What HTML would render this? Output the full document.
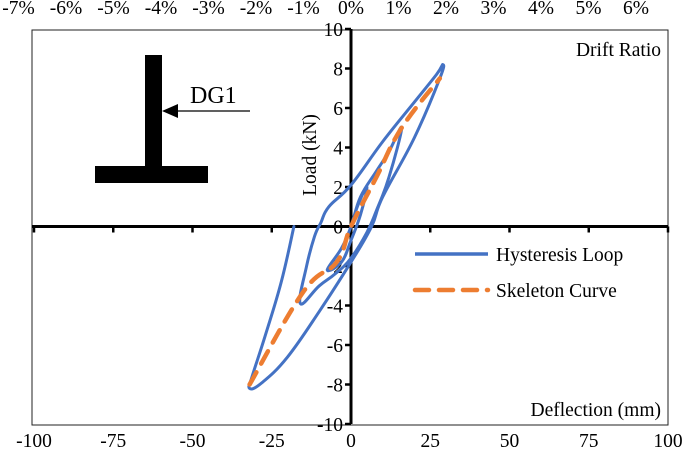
<!DOCTYPE html>
<html><head><meta charset="utf-8"><style>
html,body{margin:0;padding:0;background:#fff;}
svg{display:block;font-family:"Liberation Serif",serif;}
</style></head><body>
<svg id="chart" width="685" height="454" xmlns="http://www.w3.org/2000/svg">
<rect x="32" y="30" width="636" height="395" fill="none" stroke="#222" stroke-width="1"/>
<g id="axes"></g>
<g id="series"></g>
<g>
<rect x="145" y="55" width="17" height="112" fill="#000"/>
<rect x="95" y="166" width="113" height="17" fill="#000"/>
<line x1="176" y1="111" x2="250" y2="111" stroke="#000" stroke-width="1.2"/>
<polygon points="162,111 178,104 178,118" fill="#000"/>
<text x="190" y="103" font-size="24">DG1</text>
</g>
<text x="661" y="56" font-size="19.5" text-anchor="end">Drift Ratio</text>
<text x="661" y="416" font-size="19.5" text-anchor="end">Deflection (mm)</text>
<text transform="translate(316,155) rotate(-90)" font-size="19.5" text-anchor="middle">Load (kN)</text>
<g>
<line x1="415" y1="254" x2="488" y2="254" stroke="#4472C4" stroke-width="3.5"/>
<text x="496" y="261" font-size="19.5">Hysteresis Loop</text>
<line x1="415" y1="290" x2="488" y2="290" stroke="#ED7D31" stroke-width="4.5" stroke-dasharray="14,10" stroke-linecap="round"/>
<text x="496" y="297" font-size="19.5">Skeleton Curve</text>
</g>
</svg>
<script>
const xTicks = [-100,-75,-50,-25,0,25,50,75,100];
const yTicks = [-10,-8,-6,-4,-2,0,2,4,6,8,10];
const driftTicks = [-7,-6,-5,-4,-3,-2,-1,0,1,2,3,4,5,6];
const hystX = [0,2,5,3,0,-3,-7.5,-3,0,3,8,12,16,12,8,5,0,-5,-10,-16,-14,-11.5,-9.5,-7,0,10,20,27,29,28,20,10,6.5,0,-10,-20,-28,-32,-31,-27,-22,-18];
const hystY = [0,1,2,0.6,-0.7,-1.8,-2.2,-1.1,0,1.5,2.8,3.8,5,2.5,0.8,-0.3,-1.6,-2.4,-3,-3.9,-2,-0.5,0.2,1,2.1,4.3,6.3,7.7,8.2,7.5,4.5,1.5,0,-1.8,-4.3,-6.6,-7.9,-8.2,-7.5,-5.5,-2.8,0];
const skelX = [-32,-15,-4.5,0,8,16,28];
const skelY = [-8,-3.3,-1.8,0,2.5,5,7.5];

const NS="http://www.w3.org/2000/svg";
const xs = v => 351 + v*3.17;
const ys = v => 226.5 - v*19.75;
const dxs = v => 351 + v*47.5;
function mk(tag, attrs, parent){const e=document.createElementNS(NS,tag);for(const k in attrs)e.setAttribute(k,attrs[k]);parent.appendChild(e);return e;}
const axes=document.getElementById('axes');
const series=document.getElementById('series');

let el=mk('line',{x1:32,y1:ys(0),x2:668,y2:ys(0),stroke:'#000','stroke-width':3},axes);


el=mk('line',{x1:xs(0),y1:ys(10),x2:xs(0),y2:ys(-10),stroke:'#000','stroke-width':3},axes);



xTicks.forEach(t=>{
  const tk=mk('line',{x1:xs(t),y1:ys(0),x2:xs(t),y2:ys(0)+6,stroke:'#000','stroke-width':2.5},axes);
  
  
  const tx=mk('text',{x:xs(t),y:447,'font-size':19.5,'text-anchor':'middle'},axes);
  tx.textContent=t;
  
  
});
yTicks.forEach(t=>{
  const tk=mk('line',{x1:xs(0)-6,y1:ys(t),x2:xs(0),y2:ys(t),stroke:'#000','stroke-width':2.5},axes);
  
  
  const tx=mk('text',{x:xs(0)-8,y:ys(t)+7,'font-size':19.5,'text-anchor':'end'},axes);
  tx.textContent=t;
  
  
});
driftTicks.forEach(t=>{
  const tx=mk('text',{x:dxs(t),y:14,'font-size':19.5,'text-anchor':'middle'},axes);
  tx.textContent=t+'%';
  
  
});

function smooth(X,Y){
  const P=X.map((x,i)=>[xs(x),ys(Y[i])]);
  let d='M'+P[0][0].toFixed(1)+','+P[0][1].toFixed(1);
  for(let i=0;i<P.length-1;i++){
    const p0=P[Math.max(0,i-1)],p1=P[i],p2=P[i+1],p3=P[Math.min(P.length-1,i+2)];
    const t=0.2;
    const c1=[p1[0]+(p2[0]-p0[0])*t,p1[1]+(p2[1]-p0[1])*t];
    const c2=[p2[0]-(p3[0]-p1[0])*t,p2[1]-(p3[1]-p1[1])*t];
    d+=' C'+c1.map(v=>v.toFixed(1)).join(',')+' '+c2.map(v=>v.toFixed(1)).join(',')+' '+p2.map(v=>v.toFixed(1)).join(',');
  }
  return d;
}
el=mk('path',{d:smooth(hystX,hystY),fill:'none',stroke:'#4472C4','stroke-width':3,'stroke-linejoin':'round','stroke-linecap':'round'},series);


el=mk('path',{d:smooth(skelX,skelY),fill:'none',stroke:'#ED7D31','stroke-width':4.5,'stroke-dasharray':'14,10','stroke-linecap':'round','stroke-linejoin':'round'},series);


</script>
</body></html>
